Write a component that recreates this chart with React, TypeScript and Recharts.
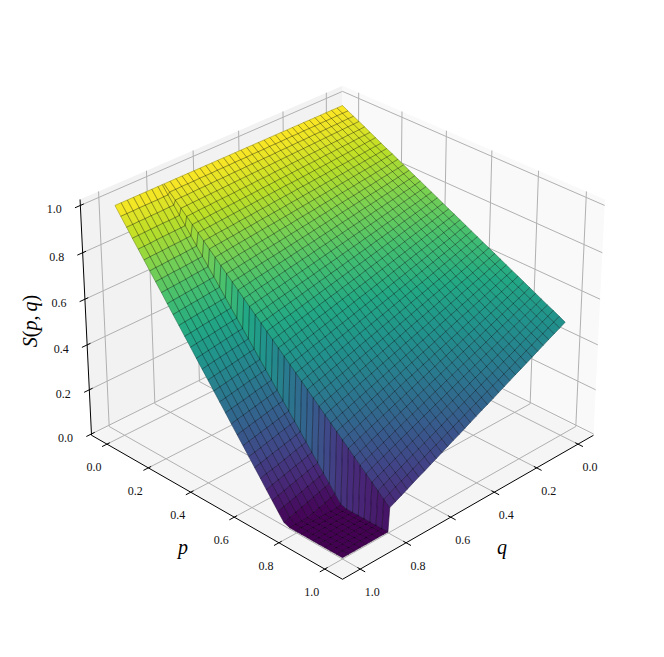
import { Scatter, ScatterChart, XAxis, YAxis } from "recharts";

const pGrid = [
  0, 0.0256, 0.0513, 0.0769, 0.1026, 0.1282, 0.1538, 0.1795, 0.2051, 0.2308,
  0.2564, 0.2821, 0.3077, 0.3333, 0.359, 0.3846, 0.4103, 0.4359, 0.4615, 0.4872,
  0.5128, 0.5385, 0.5641, 0.5897, 0.6154, 0.641, 0.6667, 0.6923, 0.7179, 0.7436,
  0.7692, 0.7949, 0.8205, 0.8462, 0.8718, 0.8974, 0.9231, 0.9487, 0.9744, 1,
];
const qGrid = [
  0, 0.0256, 0.0513, 0.0769, 0.1026, 0.1282, 0.1538, 0.1795, 0.2051, 0.2308,
  0.2564, 0.2821, 0.3077, 0.3333, 0.359, 0.3846, 0.4103, 0.4359, 0.4615, 0.4872,
  0.5128, 0.5385, 0.5641, 0.5897, 0.6154, 0.641, 0.6667, 0.6923, 0.7179, 0.7436,
  0.7692, 0.7949, 0.802, 0.8205, 0.8462, 0.8718, 0.8974, 0.9231, 0.9487, 0.9744, 1,
];

// S(p,q) in per mille, one row per q
const surface = [
  [1000,987,974,962,949,936,923,910,897,885,872,859,846,833,821,808,795,782,769,756,744,731,718,705,692,679,667,654,641,628,615,603,590,577,564,551,538,526,513,500],
  [1000,987,974,961,947,934,921,908,895,882,869,855,842,829,816,803,790,776,763,750,737,724,711,698,684,671,658,645,632,619,606,592,579,566,553,540,527,513,500,487],
  [1000,987,973,960,946,933,919,906,892,879,865,852,838,825,811,798,784,771,757,744,730,717,703,690,677,663,650,636,623,609,596,582,569,555,542,528,515,501,488,474],
  [1000,986,972,959,945,931,917,903,890,876,862,848,834,821,807,793,779,765,751,738,724,710,696,682,669,655,641,627,613,600,586,572,558,544,531,517,503,489,475,462],
  [1000,986,972,958,943,929,915,901,887,873,859,845,830,816,802,788,774,760,746,731,717,703,689,675,661,647,632,618,604,590,576,562,548,534,519,505,491,477,463,449],
  [1000,986,971,957,942,928,913,899,884,870,855,841,826,812,797,783,769,754,740,725,711,696,682,667,653,638,624,609,595,581,566,552,537,523,508,494,479,465,450,436],
  [1000,985,970,956,941,926,911,896,882,867,852,837,822,808,793,778,763,749,734,719,704,689,675,660,645,630,615,601,586,571,556,541,527,512,497,482,467,453,438,423],
  [1000,985,970,955,940,924,909,894,879,864,849,834,819,803,788,773,758,743,728,713,698,682,667,652,637,622,607,592,577,561,546,531,516,501,486,471,456,440,425,410],
  [1000,985,969,954,938,923,907,892,876,861,845,830,815,799,784,768,753,737,722,706,691,676,660,645,629,614,598,583,567,552,536,521,506,490,475,459,444,428,413,397],
  [1000,984,968,953,937,921,905,890,874,858,842,826,811,795,779,763,748,732,716,700,684,669,653,637,621,606,590,574,558,542,527,511,495,479,463,448,432,416,400,385],
  [1000,984,968,952,936,919,903,887,871,855,839,823,807,791,774,758,742,726,710,694,678,662,646,630,613,597,581,565,549,533,517,501,485,468,452,436,420,404,388,372],
  [1000,984,967,951,934,918,901,885,869,852,836,819,803,786,770,753,737,721,704,688,671,655,638,622,606,589,573,556,540,523,507,490,474,458,441,425,408,392,375,359],
  [1000,983,966,950,933,916,899,883,866,849,832,816,799,782,765,749,732,715,698,681,665,648,631,614,598,581,564,547,531,514,497,480,463,447,430,413,396,380,363,346],
  [1000,983,966,949,932,915,897,880,863,846,829,812,795,778,761,744,726,709,692,675,658,641,624,607,590,573,556,538,521,504,487,470,453,436,419,402,385,367,350,333],
  [1000,983,965,948,930,913,895,878,861,843,826,808,791,774,756,739,721,704,686,669,652,634,617,599,582,564,547,530,512,495,477,460,442,425,408,390,373,355,338,320],
  [1000,982,964,947,929,911,893,876,858,840,822,805,787,769,751,734,716,698,680,663,645,627,609,592,574,556,538,521,503,485,467,450,432,414,396,379,361,343,325,308],
  [1000,982,964,946,928,910,892,873,855,837,819,801,783,765,747,729,711,693,675,656,638,620,602,584,566,548,530,512,494,476,458,439,421,403,385,367,349,331,313,295],
  [1000,982,963,945,926,908,890,871,853,834,816,797,779,761,742,724,705,687,669,650,632,613,595,577,558,540,521,503,485,466,448,429,411,392,374,356,337,319,300,282],
  [1000,981,963,944,925,906,888,869,850,831,813,794,775,756,738,719,700,681,663,644,625,607,588,569,550,532,513,494,475,457,438,419,400,382,363,344,325,307,288,269],
  [1000,981,962,943,924,905,886,867,847,828,809,790,771,752,733,714,695,676,657,638,619,600,581,561,542,523,504,485,466,447,428,409,390,371,352,333,314,295,276,256],
  [1000,981,961,942,922,903,884,864,845,825,806,787,767,748,728,709,690,670,651,631,612,593,573,554,534,515,496,476,457,438,418,399,379,360,341,321,302,282,263,244],
  [1000,980,961,941,921,901,882,862,842,822,803,783,763,744,724,704,684,665,645,625,606,586,566,546,527,507,487,467,448,428,408,389,369,349,329,310,290,270,250,231],
  [1000,980,960,940,920,900,880,860,840,820,799,779,759,739,719,699,679,659,639,619,599,579,559,539,519,499,479,459,439,418,398,378,358,338,318,298,278,258,238,218],
  [1000,980,959,939,918,898,878,857,837,817,796,776,755,735,715,694,674,654,633,613,592,572,552,531,511,490,470,450,429,409,389,368,348,327,307,287,266,246,226,205],
  [1000,979,959,938,917,896,876,855,834,814,793,772,751,731,710,689,669,648,627,606,586,565,544,524,503,482,462,441,420,399,379,358,337,317,296,275,254,234,213,192],
  [1000,979,958,937,916,895,874,853,832,811,790,769,748,726,705,684,663,642,621,600,579,558,537,516,495,474,453,432,411,390,369,348,327,306,285,264,243,222,201,179],
  [1000,979,957,936,915,893,872,850,829,808,786,765,744,722,701,679,658,637,615,594,573,551,530,509,487,466,444,423,402,380,359,338,316,295,273,252,231,209,188,167],
  [1000,978,957,935,913,892,870,848,826,805,783,761,740,718,696,675,653,631,609,588,566,544,523,501,479,458,436,414,392,371,349,327,306,284,262,241,219,197,175,154],
  [1000,978,956,934,912,890,868,846,824,802,780,758,736,714,692,670,648,626,604,582,560,537,515,493,471,449,427,405,383,361,339,317,295,273,251,229,207,185,163,141],
  [1000,978,955,933,911,888,866,844,821,799,776,754,732,709,687,665,642,620,598,575,553,531,508,486,464,441,419,396,374,352,329,307,285,262,240,218,195,173,151,128],
  [1000,977,955,932,909,887,864,841,819,796,773,750,728,705,682,660,637,614,592,569,546,524,501,478,456,433,410,388,365,342,320,297,274,251,229,206,183,161,138,115],
  [1000,977,954,931,908,885,862,839,816,793,770,747,724,701,678,655,632,609,586,563,540,517,494,471,448,425,402,379,356,333,310,287,264,241,218,195,172,149,126,103],
  [1000,968,936,904,872,840,808,776,744,712,680,647,615,583,551,519,487,455,423,391,359,327,295,263,231,199,167,135,103,71,39,7,0,0,0,0,0,0,0,0],
  [1000,968,936,903,871,839,807,774,742,710,678,645,613,581,549,516,484,452,420,387,355,323,291,258,226,194,162,129,97,65,33,0,0,0,0,0,0,0,0,0],
  [1000,967,935,902,870,837,805,772,740,707,675,642,610,577,545,512,480,447,414,382,349,317,284,252,219,187,154,122,89,57,24,0,0,0,0,0,0,0,0,0],
  [1000,967,934,902,869,836,803,770,738,705,672,639,606,574,541,508,475,442,410,377,344,311,278,246,213,180,147,114,82,49,16,0,0,0,0,0,0,0,0,0],
  [1000,967,934,901,868,835,802,768,735,702,669,636,603,570,537,504,471,438,405,371,338,305,272,239,206,173,140,107,74,41,8,0,0,0,0,0,0,0,0,0],
  [1000,967,933,900,867,833,800,767,733,700,667,633,600,566,533,500,466,433,400,366,333,300,266,233,200,166,133,100,66,33,0,0,0,0,0,0,0,0,0,0],
  [1000,966,933,899,865,832,798,765,731,697,664,630,596,563,529,496,462,428,395,361,327,294,260,226,193,159,126,92,58,25,0,0,0,0,0,0,0,0,0,0],
  [1000,966,932,898,864,831,797,763,729,695,661,627,593,559,525,492,458,424,390,356,322,288,254,220,186,153,119,85,51,17,0,0,0,0,0,0,0,0,0,0],
  [1000,966,932,897,863,829,795,761,727,692,658,624,590,556,521,487,453,419,385,351,316,282,248,214,180,146,111,77,43,9,0,0,0,0,0,0,0,0,0,0],
];

const tickValues = [0, 0.2, 0.4, 0.6, 0.8, 1];
const tickLabels = ["0.0", "0.2", "0.4", "0.6", "0.8", "1.0"];

const P_LIM = [-0.076, 1.076];
const Q_LIM = [-0.076, 1.076];
const Z_LIM = [-0.006, 1.025];

const viridis = [
  [68, 1, 84],
  [72, 36, 117],
  [65, 68, 135],
  [53, 95, 141],
  [42, 120, 142],
  [33, 145, 140],
  [34, 168, 132],
  [68, 191, 112],
  [122, 209, 81],
  [189, 223, 38],
  [253, 231, 37],
];

const colorAt = (t: number) => {
  const s = Math.min(Math.max(t, 0), 1) * 10;
  const i = Math.min(Math.floor(s), 9);
  const f = s - i;
  const c = viridis[i].map((v, k) => Math.round(v + (viridis[i + 1][k] - v) * f));
  return `rgb(${c[0]},${c[1]},${c[2]})`;
};

// same camera as a matplotlib 3d axes: elev 30, azim 45, dist 10
const project = (q: number, p: number, z: number) => {
  const rx = ((q - Q_LIM[0]) / (Q_LIM[1] - Q_LIM[0]) - 0.5) * 1.1905;
  const ry = ((p - P_LIM[0]) / (P_LIM[1] - P_LIM[0]) - 0.5) * 1.1905;
  const rz = ((z - Z_LIM[0]) / (Z_LIM[1] - Z_LIM[0]) - 0.5) * 0.8929;
  const depth = 10 - (0.6124 * rx + 0.6124 * ry + 0.5 * rz);
  const sx = (-0.7071 * rx + 0.7071 * ry) / depth;
  const sy = (-0.3536 * rx - 0.3536 * ry + 0.866 * rz) / depth;
  return { x: 342.5 + 3048 * sx, y: 320 - 3048 * sy, depth };
};

const makePoly = (pts: { x: number; y: number }[], fill: string) => {
  const x = pts.reduce((a, b) => a + b.x, 0) / pts.length;
  const y = pts.reduce((a, b) => a + b.y, 0) / pts.length;
  return { x, y, fill, corners: pts.map((c) => [c.x - x, c.y - y]) };
};

const [q0, q1] = Q_LIM;
const [p0, p1] = P_LIM;
const [z0, z1] = Z_LIM;

const panes = [
  makePoly([project(q0, p0, z0), project(q1, p0, z0), project(q1, p0, z1), project(q0, p0, z1)], "#f2f2f2"),
  makePoly([project(q0, p0, z0), project(q0, p1, z0), project(q0, p1, z1), project(q0, p0, z1)], "#f9f9f9"),
  makePoly([project(q0, p0, z0), project(q1, p0, z0), project(q1, p1, z0), project(q0, p1, z0)], "#f5f5f5"),
];

const gridLines = [
  ...tickValues.map((t) => [project(q1, p0, t), project(q0, p0, t), project(q0, p1, t)]),
  ...tickValues.map((t) => [project(q1, t, z0), project(q0, t, z0), project(q0, t, z1)]),
  ...tickValues.map((t) => [project(t, p1, z0), project(t, p0, z0), project(t, p0, z1)]),
];

const axisLines = [
  [project(q1, p0, z0), project(q1, p1, z0)],
  [project(q0, p1, z0), project(q1, p1, z0)],
  [project(q1, p0, z0), project(q1, p0, z1)],
  ...tickValues.map((t) => [project(q1 + 0.021, t, z0), project(q1 - 0.012, t, z0)]),
  ...tickValues.map((t) => [project(t, p1 + 0.021, z0), project(t, p1 - 0.012, z0)]),
  ...tickValues.map((t) => [project(q1 + 0.022, p0, t), project(q1 - 0.014, p0, t)]),
];

const faces: (ReturnType<typeof makePoly> & { depth: number })[] = [];
for (let j = 0; j < qGrid.length - 1; j++) {
  for (let i = 0; i < pGrid.length - 1; i++) {
    const zs = [surface[j][i], surface[j + 1][i], surface[j + 1][i + 1], surface[j][i + 1]];
    const pts = [
      project(qGrid[j], pGrid[i], zs[0] / 1000),
      project(qGrid[j + 1], pGrid[i], zs[1] / 1000),
      project(qGrid[j + 1], pGrid[i + 1], zs[2] / 1000),
      project(qGrid[j], pGrid[i + 1], zs[3] / 1000),
    ];
    const mean = zs.reduce((a, b) => a + b, 0) / 4000;
    faces.push({
      ...makePoly(pts, colorAt(mean)),
      depth: pts.reduce((a, b) => a + b.depth, 0) / 4,
    });
  }
}
faces.sort((a, b) => b.depth - a.depth);

const labels = [
  ...tickValues.map((t, i) => {
    const a = project(q1, t, z0);
    return { x: a.x - 13, y: a.y + 23, text: tickLabels[i] };
  }),
  ...tickValues.map((t, i) => {
    const a = project(t, p1, z0);
    return { x: a.x + 12, y: a.y + 23, text: tickLabels[i] };
  }),
  ...tickValues.map((t, i) => {
    const a = project(q1, p0, t);
    return { x: a.x - 26, y: a.y + 4, text: tickLabels[i] };
  }),
];

const axisTitles = [
  { x: 183, y: 547, kind: "p" },
  { x: 502, y: 547, kind: "q" },
  { x: 30, y: 321, kind: "s" },
];

const FONT = "'Liberation Serif', serif";

const polyPoints = (props: any) =>
  props.payload.corners.map((c: number[]) => `${props.cx + c[0]},${props.cy + c[1]}`).join(" ");

const PolyShape = (props: any) => <polygon points={polyPoints(props)} fill={props.payload.fill} />;

const FaceShape = (props: any) => (
  <polygon points={polyPoints(props)} fill={props.payload.fill} stroke={props.payload.fill} strokeWidth={0.5} />
);

// mesh goes on top of all the fills so both line directions read the same
const MeshShape = (props: any) => (
  <polygon points={polyPoints(props)} fill="none" stroke="#000" strokeOpacity={0.42} strokeWidth={0.5} />
);

const LabelShape = (props: any) => (
  <text x={props.cx} y={props.cy} textAnchor="middle" dominantBaseline="central" fontFamily={FONT} fontSize={12} fill="#111">
    {props.payload.text}
  </text>
);

const TitleShape = (props: any) => {
  const { cx, cy, payload } = props;
  if (payload.kind === "s") {
    return (
      <text
        x={cx}
        y={cy}
        transform={`rotate(-90 ${cx} ${cy})`}
        textAnchor="middle"
        dominantBaseline="central"
        fontFamily={FONT}
        fontSize={20}
        fill="#000"
      >
        <tspan fontStyle="italic">S</tspan>(<tspan fontStyle="italic">p</tspan>,{"\u2009"}<tspan fontStyle="italic">q</tspan>)
      </text>
    );
  }
  return (
    <text x={cx} y={cy} textAnchor="middle" dominantBaseline="central" fontFamily={FONT} fontSize={20} fontStyle="italic" fill="#000">
      {payload.kind}
    </text>
  );
};

const NoDot = () => null;

export default function App() {
  return (
    <div style={{ position: "absolute", left: 0, top: 0 }}>
      <ScatterChart width={664} height={657} margin={{ top: 0, right: 0, bottom: 0, left: 0 }}>
        <XAxis type="number" dataKey="x" domain={[0, 664]} hide allowDataOverflow />
        <YAxis type="number" dataKey="y" domain={[0, 657]} reversed hide allowDataOverflow />
        <Scatter data={panes} shape={PolyShape} isAnimationActive={false} />
        {gridLines.map((line, i) => (
          <Scatter key={`g${i}`} data={line} shape={NoDot} line={{ stroke: "#b0b0b0", strokeWidth: 1 }} isAnimationActive={false} />
        ))}
        {axisLines.map((line, i) => (
          <Scatter key={`a${i}`} data={line} shape={NoDot} line={{ stroke: "#000", strokeWidth: 1 }} isAnimationActive={false} />
        ))}
        <Scatter data={faces} shape={FaceShape} isAnimationActive={false} />
        <Scatter data={faces} shape={MeshShape} isAnimationActive={false} />
        <Scatter data={labels} shape={LabelShape} isAnimationActive={false} />
        <Scatter data={axisTitles} shape={TitleShape} isAnimationActive={false} />
      </ScatterChart>
    </div>
  );
}
